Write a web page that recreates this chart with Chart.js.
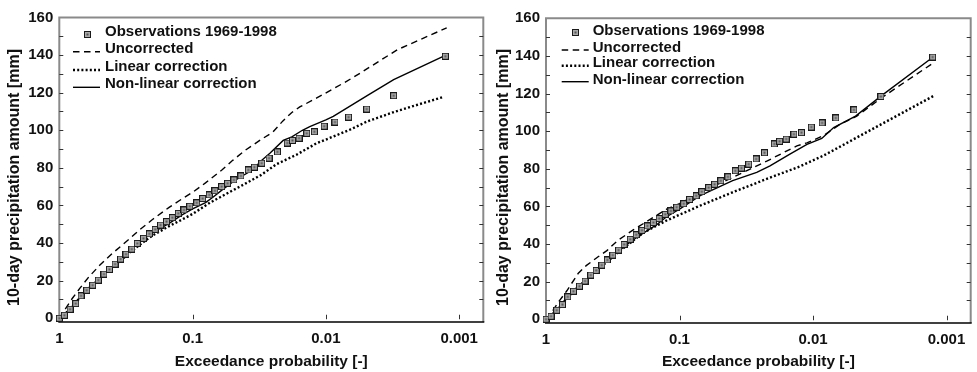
<!DOCTYPE html>
<html>
<head>
<meta charset="utf-8">
<script src="https://cdn.jsdelivr.net/npm/chart.js@4.4.1/dist/chart.umd.min.js"></script>
<style>
html, body { margin: 0; padding: 0; background: #fff; }
#wrap { position: relative; width: 977px; height: 372px; }
.panel { position: absolute; top: 0; height: 372px; }
#p1 { left: 0; width: 489px; }
#p2 { left: 489px; width: 488px; }
</style>
</head>
<body>
<div id="wrap">
  <div class="panel" id="p1"><canvas id="left"></canvas></div>
  <div class="panel" id="p2"><canvas id="right"></canvas></div>
</div>
<script>
// axis ticks
const xTicks = [1, 0.1, 0.01, 0.001];
const xTickLabels = ['1', '0.1', '0.01', '0.001'];
const yTicks = [0, 20, 40, 60, 80, 100, 120, 140, 160];
const legendLabels = ['Observations 1969-1998', 'Uncorrected', 'Linear correction', 'Non-linear correction'];
const yTitle = '10-day precipitation amount [mm]';

// observations (same in both panels)
const obsProb = [1, 0.917, 0.831, 0.753, 0.687, 0.623, 0.562, 0.510, 0.462, 0.421, 0.382, 0.347, 0.316, 0.286, 0.260, 0.234, 0.211, 0.191, 0.174, 0.157, 0.142, 0.128, 0.116, 0.105, 0.093, 0.084, 0.075, 0.068, 0.0605, 0.0546, 0.049, 0.0434, 0.0382, 0.0344, 0.0303, 0.0267, 0.0231, 0.0195, 0.0178, 0.0159, 0.0139, 0.0122, 0.0103, 0.00855, 0.00675, 0.00494, 0.0031, 0.00127];
const obsValue = [0, 1.6, 4.8, 7.8, 11.9, 14.9, 17.6, 20.3, 23.5, 26.0, 28.8, 31.5, 34.1, 36.8, 39.8, 42.5, 44.9, 47.3, 49.6, 51.4, 53.5, 55.8, 57.6, 59.6, 61.4, 63.7, 65.6, 67.8, 70.0, 71.8, 73.6, 75.7, 78.9, 80.4, 82.5, 85.2, 88.5, 93.2, 94.6, 95.8, 98.4, 99.2, 102.2, 104.4, 107.0, 111.3, 118.4, 139.4];

// left panel
const leftUncorrProb = [1, 0.9, 0.8, 0.7, 0.6, 0.5, 0.4, 0.3, 0.25, 0.2, 0.15, 0.12, 0.1, 0.08, 0.06, 0.05, 0.04, 0.03, 0.025, 0.021, 0.018, 0.0157, 0.0117, 0.007, 0.0055, 0.0029, 0.00124];
const leftUncorrValue = [0, 5, 10.5, 16, 22, 28, 34.5, 42, 47, 52.5, 59, 63.5, 67, 72, 79, 84, 89.5, 95.5, 99, 105, 109.5, 112.4, 117.2, 126, 130.5, 142.9, 154.5];
const leftLinearProb = [1, 0.9, 0.8, 0.7, 0.6, 0.5, 0.4, 0.3, 0.25, 0.2, 0.15, 0.12, 0.1, 0.074, 0.05, 0.0417, 0.031, 0.0234, 0.0166, 0.0118, 0.0066, 0.0049, 0.003, 0.00132];
const leftLinearValue = [0, 2.5, 6, 11, 16, 21, 27, 34.5, 39, 44, 49, 52.5, 55.5, 61.5, 68, 71, 76, 82, 87, 93, 100.3, 104.7, 110, 117.7];
const leftNonlinProb = [1, 0.9, 0.8, 0.7, 0.6, 0.5, 0.4, 0.3, 0.25, 0.2, 0.15, 0.12, 0.1, 0.08, 0.07, 0.06, 0.05, 0.044, 0.035, 0.031, 0.0263, 0.0209, 0.018, 0.015, 0.0132, 0.01, 0.0088, 0.0049, 0.0031, 0.00127];
const leftNonlinValue = [0, 2.5, 6, 11, 16, 21, 27.5, 35.5, 40.5, 45.5, 50.5, 55, 58.2, 61.5, 64.5, 68.3, 72.5, 75, 79.2, 83.4, 87.8, 94.6, 96.5, 100, 102, 105.5, 107.4, 118.4, 126.9, 139.8];

// right panel
const rightUncorrProb = [1, 0.9, 0.8, 0.7, 0.575, 0.5, 0.407, 0.35, 0.29, 0.222, 0.2, 0.125, 0.1, 0.07, 0.04, 0.022, 0.0132, 0.0111, 0.0084, 0.0063, 0.0047, 0.003, 0.00126];
const rightUncorrValue = [0, 4, 9.5, 15, 24.3, 28.5, 33.2, 36.5, 41.9, 47.5, 49.5, 58.5, 61.5, 67.5, 75.4, 84.2, 92.2, 93.8, 97.5, 103.6, 108, 118.2, 136.2];
const rightLinearProb = [1, 0.9, 0.8, 0.7, 0.6, 0.5, 0.4, 0.3, 0.25, 0.187, 0.125, 0.07, 0.04, 0.0222, 0.0125, 0.0084, 0.0047, 0.00126];
const rightLinearValue = [0, 2.5, 6, 11, 16, 21, 27, 34.5, 39, 46, 52.5, 60.4, 67.5, 74.6, 81.3, 86.9, 96.6, 118.6];
const rightNonlinProb = [1, 0.9, 0.8, 0.7, 0.6, 0.5, 0.4, 0.3, 0.25, 0.2, 0.15, 0.125, 0.1, 0.07, 0.04, 0.0264, 0.021, 0.0149, 0.0111, 0.0086, 0.007, 0.0048, 0.0031, 0.00126];
const rightNonlinValue = [0, 2.5, 6, 11, 16, 21, 27.5, 35, 39.5, 44.5, 50, 54.5, 58.5, 65.7, 73.7, 78.1, 81.6, 87.8, 93, 96.1, 101.9, 108, 118.6, 139.4];

const FONT = '"Liberation Sans", Arial, Helvetica, sans-serif';

function pts(probs, vals) {
  return probs.map((p, i) => ({ x: p, y: vals[i] }));
}

// square marker: black edge, grey fill, dark centre
const marker = document.createElement('canvas');
marker.width = 7; marker.height = 7;
const mctx = marker.getContext('2d');
mctx.fillStyle = '#1a1a1a'; mctx.fillRect(0, 0, 7, 7);
mctx.fillStyle = '#a8a8a8'; mctx.fillRect(1, 1, 5, 5);
mctx.fillStyle = '#555'; mctx.fillRect(2.5, 2.5, 2, 2);

const framePlugin = {
  id: 'frame',
  beforeDatasetsDraw(chart) {
    const { ctx, chartArea: a, scales: { x, y } } = chart;
    const o = chart.options.plugins.panelLegend;
    ctx.save();
    ctx.strokeStyle = '#8a8a8a';
    ctx.lineWidth = 2;
    ctx.beginPath();
    ctx.moveTo(a.left, a.bottom);
    ctx.lineTo(a.left, a.top);
    ctx.lineTo(a.right, a.top);
    ctx.lineTo(a.right, a.bottom);
    ctx.stroke();
    ctx.strokeStyle = '#000';
    ctx.lineWidth = 1.5;
    ctx.beginPath();
    ctx.moveTo(a.left - 1, a.bottom);
    ctx.lineTo(a.right + 1, a.bottom);
    ctx.stroke();
    // inward ticks every 10 on left and right
    ctx.strokeStyle = '#333';
    ctx.lineWidth = 1;
    ctx.beginPath();
    for (let v = 10; v < 160; v += 10) {
      const py = Math.round(y.getPixelForValue(v)) + 0.5;
      ctx.moveTo(a.left, py); ctx.lineTo(a.left + 4, py);
      ctx.moveTo(a.right - 4, py); ctx.lineTo(a.right, py);
    }
    // bottom decade ticks
    const y0 = y.getPixelForValue(0);
    xTicks.slice(1).forEach(v => {
      const px = Math.round(x.getPixelForValue(v)) + 0.5;
      ctx.moveTo(px, y0 + 1); ctx.lineTo(px, y0 - 3.5);
    });
    ctx.stroke();
    // y axis title
    ctx.translate(o.yTitleX, o.yTitleY);
    ctx.rotate(-Math.PI / 2);
    ctx.font = 'bold 16px ' + FONT;
    ctx.fillStyle = '#111';
    ctx.textAlign = 'center';
    ctx.textBaseline = 'middle';
    ctx.fillText(yTitle, 0, 0);
    ctx.restore();
  },
  afterDatasetsDraw(chart) {
    const o = chart.options.plugins.panelLegend;
    const { ctx } = chart;
    ctx.save();
    ctx.font = 'bold 15px ' + FONT;
    ctx.textBaseline = 'middle';
    ctx.fillStyle = '#111';
    chart.data.datasets.forEach((ds, i) => {
      const row = o.rows[i];
      if (i === 0) {
        ctx.drawImage(marker, Math.round(o.markerX - 3.5), Math.round(row + 2 - 3.5));
      } else {
        ctx.strokeStyle = '#000';
        ctx.lineWidth = ds.borderWidth;
        ctx.setLineDash(ds.borderDash || []);
        ctx.beginPath();
        const ly = row + o.lineOffset[i];
        ctx.moveTo(o.lineX, ly);
        ctx.lineTo(o.lineX + o.lineLen, ly);
        ctx.stroke();
        ctx.setLineDash([]);
      }
      ctx.fillText(legendLabels[i], o.textX, row);
    });
    ctx.restore();
  }
};

function makeChart(id, sets, geo) {
  const ctx = document.getElementById(id).getContext('2d');
  return new Chart(ctx, {
    type: 'line',
    data: {
      datasets: [
        {
          label: legendLabels[0],
          data: pts(obsProb, obsValue),
          showLine: false,
          pointStyle: marker,
          pointRadius: 3.5,
          clip: false
        },
        {
          label: legendLabels[1],
          data: sets[0],
          borderColor: '#000',
          borderWidth: 1.4,
          borderDash: [6.5, 4.5],
          pointRadius: 0,
          tension: 0,
          clip: false
        },
        {
          label: legendLabels[2],
          data: sets[1],
          borderColor: '#000',
          borderWidth: 2.4,
          borderDash: [2, 2.2],
          pointRadius: 0,
          tension: 0,
          clip: false
        },
        {
          label: legendLabels[3],
          data: sets[2],
          borderColor: '#000',
          borderWidth: 1.4,
          pointRadius: 0,
          tension: 0,
          clip: false
        }
      ]
    },
    options: {
      responsive: true,
      maintainAspectRatio: false,
      animation: false,
      devicePixelRatio: 1,
      layout: { padding: { left: 0, right: geo.padRight, top: geo.padTop, bottom: 0 } },
      plugins: {
        legend: { display: false },
        tooltip: { enabled: false },
        panelLegend: geo.legend
      },
      scales: {
        x: {
          type: 'logarithmic',
          reverse: true,
          min: 0.000659,
          max: 1,
          grid: { display: false, drawTicks: false },
          border: { display: false },
          afterBuildTicks: s => { s.ticks = xTicks.map(v => ({ value: v })); },
          afterFit: s => { s.height = geo.xHeight; },
          ticks: {
            autoSkip: false,
            maxRotation: 0,
            padding: 8,
            color: '#111',
            font: { family: FONT, size: 15, weight: 'bold' },
            callback: (v, i) => xTickLabels[i]
          },
          title: {
            display: true,
            text: 'Exceedance probability [-]',
            color: '#111',
            font: { family: FONT, size: 15.5, weight: 'bold' },
            padding: { top: 0, bottom: 1 }
          }
        },
        y: {
          type: 'linear',
          min: -2,
          max: 160,
          grid: { display: false, drawTicks: false },
          border: { display: false },
          afterBuildTicks: s => { s.ticks = yTicks.map(v => ({ value: v })); },
          afterFit: s => { s.width = geo.yWidth; },
          ticks: {
            padding: 6,
            color: '#111',
            font: { family: FONT, size: 15, weight: 'bold' }
          }
        }
      }
    },
    plugins: [framePlugin]
  });
}

makeChart('left',
  [pts(leftUncorrProb, leftUncorrValue), pts(leftLinearProb, leftLinearValue), pts(leftNonlinProb, leftNonlinValue)],
  {
    padRight: 5.7, padTop: 17.5, xHeight: 50, yWidth: 59.3,
    legend: { yTitleX: 15, yTitleY: 177.5, markerX: 87, lineX: 73, lineLen: 27, textX: 105, rows: [32.3, 49.3, 66.7, 84.3], lineOffset: [2, 2.4, 3.3, 3] }
  });

makeChart('right',
  [pts(rightUncorrProb, rightUncorrValue), pts(rightLinearProb, rightLinearValue), pts(rightNonlinProb, rightNonlinValue)],
  {
    padRight: 6.3, padTop: 18.3, xHeight: 49, yWidth: 57,
    legend: { yTitleX: 14.3, yTitleY: 177.5, markerX: 86, lineX: 72.7, lineLen: 27, textX: 103.7, rows: [30.7, 47.7, 63.3, 80], lineOffset: [2, 2.3, 2.4, 1.7] }
  });
</script>
</body>
</html>
